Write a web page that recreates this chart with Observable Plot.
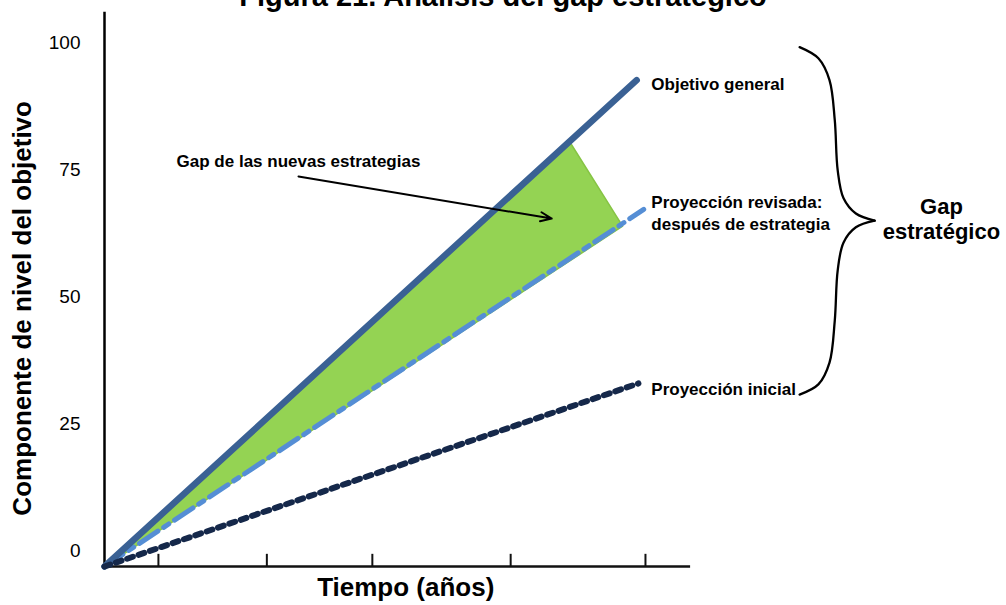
<!DOCTYPE html>
<html>
<head>
<meta charset="utf-8">
<script src="https://cdn.jsdelivr.net/npm/d3@7"></script>
<script src="https://cdn.jsdelivr.net/npm/@observablehq/plot@0.6"></script>
<style>
  html, body { margin: 0; padding: 0; background: #fff; overflow: hidden; }
  #wrap { position: relative; width: 1006px; height: 605px; }
  #chart { position: absolute; left: 0; top: 0; }
  #title {
    position: absolute; left: 0; top: -20px; width: 1006px;
    text-align: center; line-height: 30px; color: #000;
    font: bold 29px "Liberation Sans", Arial, sans-serif;
  }
</style>
</head>
<body>
<div id="wrap">
  <div id="chart"></div>
  <div id="title">Figura 21. Análisis del gap estratégico</div>
</div>
<script>
// Series: each line runs from the origin to its end point (tiempo, nivel)
const serieNombres = ["Objetivo general", "Proyección revisada", "Proyección inicial"];
const tiempoFin = [9.08, 9.2, 9.11];
const nivelFin = [95.9, 70.4, 36.1];

// Green gap polygon between the goal line and the revised projection
const gapTiempo = [0, 7.95, 8.84, 0];
const gapNivel = [0, 83.5, 67.1, 0];

// Axis ticks
const ticksTiempo = [0.92, 2.77, 4.57, 6.93, 9.23];
const ticksNivel = [0, 25, 50, 75, 100];

// Labels at the end of each line
const etiquetaTexto = ["Objetivo general", "Proyección revisada:\ndespués de estrategia", "Proyección inicial"];
const etiquetaNivel = [95.3, 70.0, 35.3];
const etiquetaTiempo = 9.33;

// Arrow pointing into the gap
const flecha = [{t1: 3.31, v1: 76.9, t2: 7.63, v2: 68.6}];
const gapTexto = [{text: "Gap de las nuevas estrategias", t: 1.23, v: 79.9}];

// Curly brace spanning the strategic gap (two halves meeting at the tip)
const llaveTiempo = [11.86, 12.18, 12.37, 12.46, 12.51, 12.61, 12.82, 13.14, 12.82, 12.61, 12.51, 12.46, 12.37, 12.18, 11.86];
const llaveNivel  = [102.4, 100.2, 95.9, 88.0, 78.1, 72.6, 69.6, 68.2, 66.9, 63.9, 58.4, 48.5, 40.2, 35.9, 33.9];
const llaveTexto = [{text: "Gap\nestratégico", t: 14.28, v: 68.6}];

const series = serieNombres.flatMap((s, i) => [
  {serie: s, t: 0, v: 0},
  {serie: s, t: tiempoFin[i], v: nivelFin[i]}
]);
const gap = gapTiempo.map((t, i) => ({t, v: gapNivel[i]}));
const llave = llaveTiempo.map((t, i) => ({t, v: llaveNivel[i], mitad: i <= 7 ? "sup" : "inf"}));
// tip point belongs to both halves
llave.splice(8, 0, {t: llaveTiempo[7], v: llaveNivel[7], mitad: "inf"});
const etiquetas = etiquetaTexto.map((text, i) => ({text, t: etiquetaTiempo, v: etiquetaNivel[i]}));

const font = '"Liberation Sans", Arial, sans-serif';
const bySerie = s => series.filter(d => d.serie === s);

const chart = Plot.plot({
  width: 1006,
  height: 605,
  marginLeft: 104,
  marginRight: 0,
  marginTop: 0,
  marginBottom: 39,
  x: {domain: [0, 15.39], axis: null},
  y: {domain: [0, 111.6], axis: null},
  style: {fontFamily: font, color: "#000", background: "#fff", overflow: "visible"},
  marks: [
    // axes frame
    Plot.ruleX([0], {y1: 0, y2: 109.3, stroke: "#000", strokeWidth: 2.5}),
    Plot.ruleY([0], {x1: 0, x2: 10, stroke: "#111", strokeWidth: 2.5}),
    Plot.ruleX(ticksTiempo, {x: d => d, y1: 0, y2: 2.4, stroke: "#111", strokeWidth: 2}),
    Plot.text(ticksNivel, {x: 0, y: d => d, text: d => String(d), dx: -24, dy: -16, textAnchor: "end", fontSize: 19}),
    // gap area
    Plot.line(gap, {x: "t", y: "v", fill: "#94d353", stroke: "#86c444", strokeWidth: 1.5, curve: "linear"}),
    // series lines
    Plot.line(bySerie("Proyección revisada"), {x: "t", y: "v", stroke: "#558ed5", strokeWidth: 5, strokeDasharray: "22,7,6,7"}),
    Plot.line(bySerie("Objetivo general"), {x: "t", y: "v", stroke: "#3a6194", strokeWidth: 6.5}),
    Plot.line(bySerie("Proyección inicial"), {x: "t", y: "v", stroke: "#15284a", strokeWidth: 6, strokeDasharray: "6,6"}),
    // annotations
    Plot.arrow(flecha, {x1: "t1", y1: "v1", x2: "t2", y2: "v2", stroke: "#000", strokeWidth: 2, headLength: 9, headAngle: 45}),
    Plot.text(gapTexto, {x: "t", y: "v", text: "text", textAnchor: "start", fontSize: 17, fontWeight: "bold"}),
    Plot.text(etiquetas, {x: "t", y: "v", text: "text", textAnchor: "start", fontSize: 17, fontWeight: "bold", lineHeight: 1.3}),
    Plot.line(llave, {x: "t", y: "v", z: "mitad", curve: "catmull-rom", stroke: "#000", strokeWidth: 2.3}),
    Plot.text(llaveTexto, {x: "t", y: "v", text: "text", textAnchor: "middle", fontSize: 22, fontWeight: "bold", lineHeight: 1.15}),
    // axis titles
    Plot.text(["Tiempo (años)"], {x: 5.14, y: -4.2, text: d => d, fontSize: 26, fontWeight: "bold"}),
    Plot.text(["Componente de nivel del objetivo"], {x: -1.40, y: 50.9, text: d => d, rotate: -90, fontSize: 26, fontWeight: "bold"})
  ]
});
document.getElementById("chart").appendChild(chart);
</script>
</body>
</html>
